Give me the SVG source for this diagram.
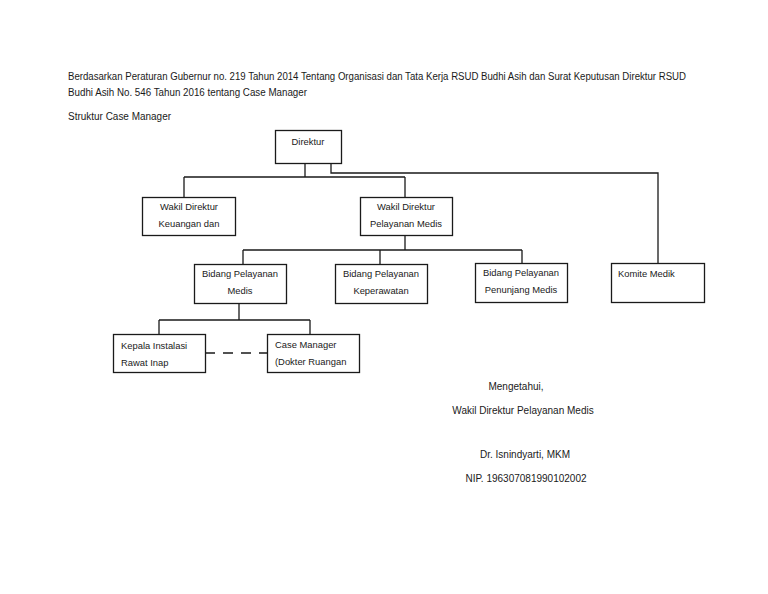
<svg xmlns="http://www.w3.org/2000/svg" width="768" height="594" viewBox="0 0 768 594">
<style>
text{font-family:"Liberation Sans","DejaVu Sans",sans-serif;font-size:10px;fill:#1a1a1a}
.b{font-size:9.4px}
.box{fill:#fff;stroke:#1a1a1a;stroke-width:1.3}
.ln{fill:none;stroke:#1a1a1a;stroke-width:1.3}
.c{text-anchor:middle}
</style>
<rect width="768" height="594" fill="#fff"/>
<g id="header">
<text x="68" y="80" textLength="618" lengthAdjust="spacingAndGlyphs">Berdasarkan Peraturan Gubernur no. 219 Tahun 2014 Tentang Organisasi dan Tata Kerja RSUD Budhi Asih dan Surat Keputusan Direktur RSUD</text>
<text x="68" y="96" textLength="239" lengthAdjust="spacingAndGlyphs">Budhi Asih No. 546 Tahun 2016 tentang Case Manager</text>
<text x="68" y="120" textLength="103" lengthAdjust="spacingAndGlyphs">Struktur Case Manager</text>
</g>
<g id="connectors">
<path class="ln" d="M305 163V177M184 177H405M184 177V197M405 177V197"/>
<path class="ln" d="M331 163V173H658V263"/>
<path class="ln" d="M405 235V250M243 250H522M243 250V264M380 250V264M522 250V263"/>
<path class="ln" d="M239 304V320M159 320H310M159 320V334M310 320V334"/>
<path class="ln" d="M205 353H267" stroke-dasharray="10,8"/>
</g>
<g id="direktur"><rect class="box" x="275.5" y="130.5" width="66" height="33"/><text class="c b" x="308" y="145">Direktur</text></g>
<g id="wadir-keuangan"><rect class="box" x="142.5" y="197.5" width="93" height="38"/><text class="c b" x="189" y="210">Wakil Direktur</text><text class="c b" x="189" y="227">Keuangan dan</text></g>
<g id="wadir-pelayanan"><rect class="box" x="360.5" y="197.5" width="92" height="38"/><text class="c b" x="406" y="210">Wakil Direktur</text><text class="c b" x="406" y="227">Pelayanan Medis</text></g>
<g id="bidang-medis"><rect class="box" x="194.5" y="264.5" width="92" height="39"/><text class="c b" x="240" y="277">Bidang Pelayanan</text><text class="c b" x="240" y="294">Medis</text></g>
<g id="bidang-keperawatan"><rect class="box" x="335.5" y="264.5" width="92" height="39"/><text class="c b" x="381" y="277">Bidang Pelayanan</text><text class="c b" x="381" y="294">Keperawatan</text></g>
<g id="bidang-penunjang"><rect class="box" x="475.5" y="263.5" width="92" height="39"/><text class="c b" x="521" y="276">Bidang Pelayanan</text><text class="c b" x="521" y="293">Penunjang Medis</text></g>
<g id="komite-medik"><rect class="box" x="611.5" y="263.5" width="93" height="39"/><text class="b" x="618" y="277">Komite Medik</text></g>
<g id="kepala-instalasi"><rect class="box" x="113.5" y="334.5" width="92" height="38"/><text class="b" x="121" y="349">Kepala Instalasi</text><text class="b" x="121" y="366">Rawat Inap</text></g>
<g id="case-manager"><rect class="box" x="267.5" y="334.5" width="92" height="38"/><text class="b" x="275" y="348">Case Manager</text><text class="b" x="275" y="365">(Dokter Ruangan</text></g>
<g id="signature">
<text class="c" x="516" y="390">Mengetahui,</text>
<text class="c" x="523" y="414">Wakil Direktur Pelayanan Medis</text>
<text class="c" x="525" y="458">Dr. Isnindyarti, MKM</text>
<text class="c" x="526" y="482">NIP. 196307081990102002</text>
</g>
</svg>
